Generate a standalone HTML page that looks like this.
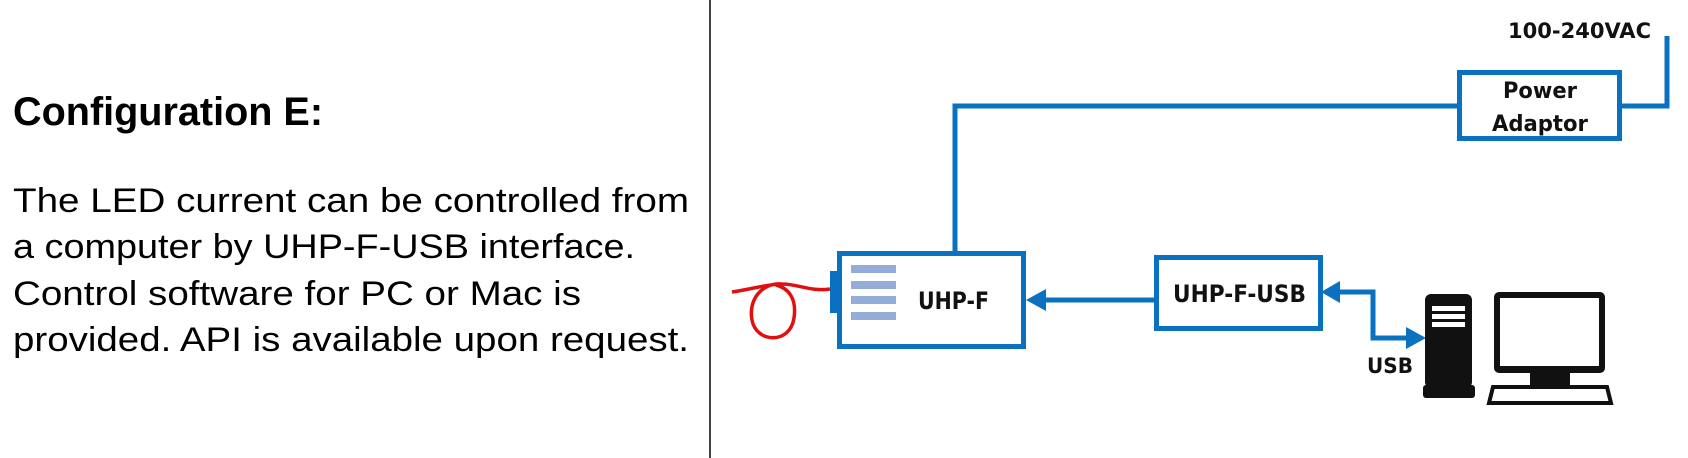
<!DOCTYPE html>
<html><head><meta charset="utf-8"><style>
html,body{margin:0;padding:0;background:#fff;}
svg{display:block;}
</style></head><body>
<svg width="1688" height="458" viewBox="0 0 1688 458" xmlns="http://www.w3.org/2000/svg">
<rect width="1688" height="458" fill="#fff"/>
<line x1="710" y1="0" x2="710" y2="458" stroke="#444" stroke-width="2"/>
<g font-family="'Liberation Sans', sans-serif" fill="#000">
<text x="13" y="125" font-size="40" font-weight="bold" textLength="310" lengthAdjust="spacingAndGlyphs">Configuration E:</text>
<text x="13" y="212" font-size="34" textLength="676" lengthAdjust="spacingAndGlyphs">The LED current can be controlled from</text>
<text x="13" y="258" font-size="34" textLength="622" lengthAdjust="spacingAndGlyphs">a computer by UHP-F-USB interface.</text>
<text x="13" y="305" font-size="34" textLength="568" lengthAdjust="spacingAndGlyphs">Control software for PC or Mac is</text>
<text x="13" y="351" font-size="34" textLength="676" lengthAdjust="spacingAndGlyphs">provided. API is available upon request.</text>
</g>
<g stroke="#0a70c0" stroke-width="5" fill="none">
<polyline points="955,253 955,106 1457,106"/>
<polyline points="1622,106 1667,106 1667,36"/>
<rect x="1459.5" y="72.5" width="160" height="66"/>
<rect x="839.5" y="253.5" width="184" height="93"/>
<rect x="1156.5" y="257.5" width="164" height="71"/>
<line x1="1156" y1="300" x2="1042" y2="300"/>
<polyline points="1336,292 1373,292 1373,338 1410,338"/>
</g>
<g fill="#0a70c0">
<polygon points="1026,300 1046,289 1046,311"/>
<polygon points="1321,292 1340,281 1340,303"/>
<polygon points="1426,338 1406,327 1406,349"/>
<rect x="830" y="271" width="8" height="42"/>
</g>
<g fill="#93add8">
<rect x="851" y="265" width="45" height="8"/>
<rect x="851" y="281" width="45" height="8"/>
<rect x="851" y="296" width="45" height="8"/>
<rect x="851" y="312" width="45" height="8"/>
</g>
<path d="M732,292 C752,289 768,284 782,284 C798,284 812,292 830,289 M782,284 C762,282 748,300 752,320 C756,343 790,345 794,318 C797,298 788,288 776,285" stroke="#e01010" stroke-width="3.5" fill="none"/>
<g font-family="'DejaVu Sans', sans-serif" font-weight="bold" fill="#111">
<text x="918" y="309" font-size="24" textLength="71" lengthAdjust="spacingAndGlyphs">UHP-F</text>
<text x="1173" y="302" font-size="24" textLength="133" lengthAdjust="spacingAndGlyphs">UHP-F-USB</text>
<text x="1503" y="98" font-size="22" textLength="74" lengthAdjust="spacingAndGlyphs">Power</text>
<text x="1492" y="131" font-size="22" textLength="96" lengthAdjust="spacingAndGlyphs">Adaptor</text>
<text x="1508" y="38" font-size="21" textLength="143" lengthAdjust="spacingAndGlyphs">100-240VAC</text>
<text x="1367" y="373" font-size="21" textLength="46" lengthAdjust="spacingAndGlyphs">USB</text>
</g>
<g fill="#111">
<rect x="1425" y="294" width="47" height="94" rx="6"/>
<rect x="1423" y="385" width="52" height="13" rx="3"/>
<rect x="1432" y="306" width="33" height="5" fill="#fff"/>
<rect x="1432" y="314" width="33" height="5" fill="#fff"/>
<rect x="1432" y="322" width="33" height="5" fill="#fff"/>
<rect x="1494" y="292" width="111" height="81" rx="5"/>
<rect x="1500" y="298" width="99" height="68" fill="#fff"/>
<rect x="1530" y="372" width="40" height="14"/>
</g>
<polygon points="1493,387 1607,387 1611,403 1489,403" fill="#fff" stroke="#111" stroke-width="4"/>
</svg>
</body></html>
